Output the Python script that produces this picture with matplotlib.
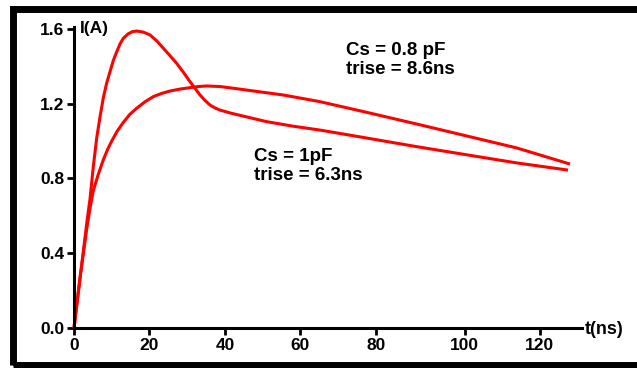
import numpy as np
import matplotlib
matplotlib.use("Agg")
import matplotlib.pyplot as plt
from matplotlib.patches import Rectangle

# values (x in axis units, y in A)
t_1pf = [0, 1.2, 2.47, 3.5, 4.24, 5.1, 6.02, 6.9, 7.77, 8.65, 9.54, 10.4, 11.32,
         12.2, 13.07, 14.3, 15.5, 16.62, 18.4, 20.15, 21.9, 23.67, 25.4, 27.22,
         29.0, 30.75, 32.1, 33.4, 34.7, 36.05, 37.4, 38.7, 41.5, 45.0, 51.08,
         58.0, 65.21, 78.0, 90.92, 104.0, 117.43, 130.95]
i_1pf = [0, 0.20, 0.41, 0.58, 0.69, 0.86, 1.017, 1.13, 1.231, 1.31, 1.371, 1.43,
         1.478, 1.52, 1.550, 1.573, 1.586, 1.589, 1.583, 1.568, 1.537, 1.497,
         1.458, 1.416, 1.368, 1.318, 1.282, 1.247, 1.218, 1.193, 1.177, 1.166,
         1.150, 1.133, 1.104, 1.080, 1.059, 1.015, 0.970, 0.927, 0.883, 0.845]

t_08pf = [0, 1.59, 3.37, 4.24, 5.12, 6.4, 7.77, 8.9, 9.99, 11.5, 13.07, 14.8,
          16.62, 18.8, 21.02, 23.2, 25.45, 28.0, 30.75, 33.0, 35.18, 38.7, 42.15,
          48.0, 55.4, 65.2, 78.0, 90.92, 104.0, 117.43, 131.5]
i_08pf = [0, 0.268, 0.53, 0.64, 0.735, 0.82, 0.90, 0.955, 1.00, 1.055, 1.10,
          1.143, 1.176, 1.210, 1.238, 1.255, 1.268, 1.278, 1.286, 1.292, 1.295,
          1.292, 1.283, 1.267, 1.247, 1.211, 1.152, 1.091, 1.028, 0.963, 0.877]

# the original axis is hand drawn: 100 and 120 sit a bit to the right
x_tick_pos = [0, 20, 40, 60, 80, 103.6, 123.5]
x_tick_labels = ["0", "20", "40", "60", "80", "100", "120"]
y_ticks = [0.0, 0.4, 0.8, 1.2, 1.6]
y_tick_labels = ["0.0", "0.4", "0.8", "1.2", "1.6"]

W, H = 637, 368
fig = plt.figure(figsize=(W / 100, H / 100), dpi=100)
plt.rcParams['font.family'] = ['Liberation Sans', 'DejaVu Sans']

# black outer frame
fig.patches.append(Rectangle((13 / W, 3 / H), 1.0, 1 - 12 / H, transform=fig.transFigure,
                             fill=False, edgecolor='black', linewidth=5.0))

ax = fig.add_axes([74 / W, 1 - 328 / H, (582 - 74) / W, (328 - 27) / H])
ax.set_xlim(0, (582 - 74) / 3.7725)
ax.set_ylim(0, (328 - 27) / 186.9)

for t, i in [(t_1pf, i_1pf), (t_08pf, i_08pf)]:
    ax.plot(t, i, color='#ff0000', lw=2.2, clip_on=False,
            solid_joinstyle='round', solid_capstyle='butt')

for s in ['top', 'right']:
    ax.spines[s].set_visible(False)
for s in ['left', 'bottom']:
    ax.spines[s].set_linewidth(2.2)

ax.set_xticks(x_tick_pos)
ax.set_xticklabels(x_tick_labels)
ax.set_yticks(y_ticks)
ax.set_yticklabels(y_tick_labels)
ax.tick_params(axis='both', direction='out', length=5, width=2, labelsize=12.5, pad=2)
for lab in ax.get_xticklabels() + ax.get_yticklabels():
    lab.set_fontweight('bold')

ax.text(1.6, 1.602, "I(A)", fontsize=12.5, fontweight='bold', va='center', ha='left', clip_on=False)
ax.text(135.3, -0.008, "t(ns)", fontsize=13, fontweight='bold', va='center', ha='left', clip_on=False)

ax.text(72.1, 1.434, "Cs = 0.8 pF\ntrise = 8.6ns", fontsize=13.5, fontweight='bold',
        va='center', ha='left', linespacing=1.2)
ax.text(47.7, 0.867, "Cs = 1pF\ntrise = 6.3ns", fontsize=13.5, fontweight='bold',
        va='center', ha='left', linespacing=1.2)

fig.savefig("out.png", dpi=100)
